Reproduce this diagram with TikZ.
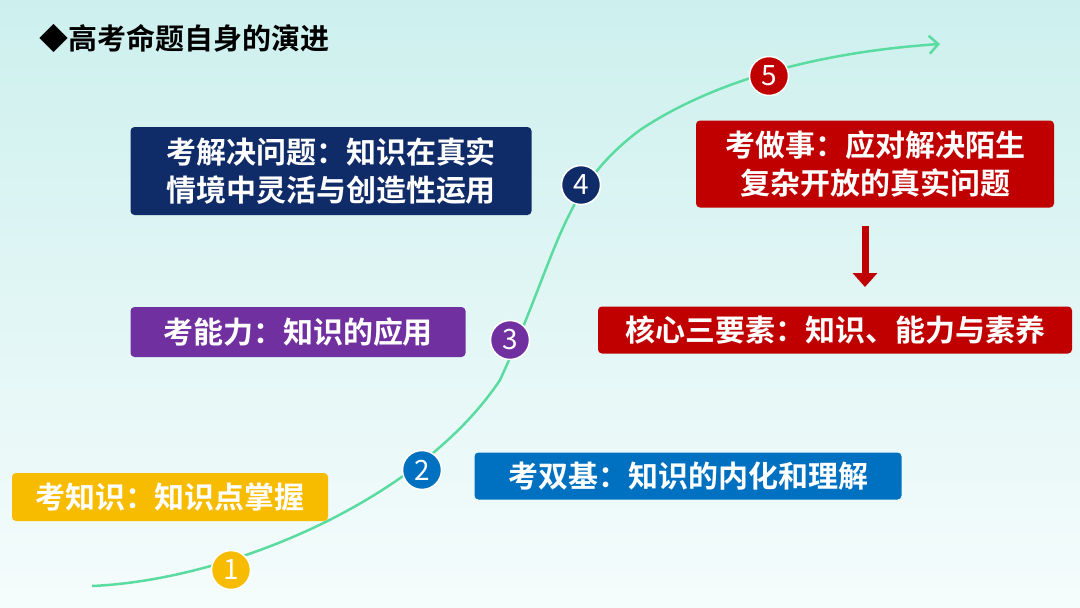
\documentclass[tikz,border=0pt]{standalone}
\usepackage{fontspec}
\setmainfont{Noto Sans CJK SC}[BoldFont={Noto Sans CJK SC Bold}]
\usetikzlibrary{arrows.meta}
\definecolor{curvegreen}{RGB}{90,220,160}
\definecolor{cyellow}{RGB}{247,187,0}
\definecolor{cblue}{RGB}{0,112,192}
\definecolor{cpurple}{RGB}{112,48,160}
\definecolor{cnavy}{RGB}{16,44,104}
\definecolor{cred}{RGB}{192,0,0}
\tikzset{
    stagebox/.style={fill=#1, rounded corners=4pt, text=white, font=\bfseries\fontsize{30}{38}\selectfont, align=center, inner sep=0pt},
    stagedot/.style={circle, fill=#1, draw=white, line width=1.5pt, minimum size=39pt, inner sep=0pt, text=white, font=\fontsize{28}{28}\selectfont}
}
\begin{document}
\begin{tikzpicture}[x=1pt, y=-1pt]
        \useasboundingbox (0,0) rectangle (1080,608);
        \shade[top color={rgb,255:red,205;green,240;blue,238}, bottom color={rgb,255:red,245;green,252;blue,252}] (0,0) rectangle (1080,608);
        \node[anchor=west, font=\bfseries\fontsize{29}{29}\selectfont] (title) at (36,38) {◆高考命题自身的演进};
        % growth curve
        \draw[curvegreen, line width=2.5pt, -{Straight Barb[length=9pt]}] (92,586) .. controls (230,580) and (420,500) .. (500,380) .. controls (560,250) and (560,190) .. (640,130) .. controls (730,70) and (850,50) .. (940,44);
        % stages
        \node[stagebox=cyellow, minimum width=316pt, minimum height=48pt] (zhishi) at (170,497) {考知识：知识点掌握};
        \node[stagebox=cblue, minimum width=427pt, minimum height=47pt] (shuangji) at (688,476) {考双基：知识的内化和理解};
        \node[stagebox=cpurple, minimum width=335pt, minimum height=50pt] (nengli) at (298,332) {考能力：知识的应用};
        \node[stagebox=cnavy, minimum width=401pt, minimum height=88pt] (jiejue) at (331,171) {考解决问题：知识在真实\\情境中灵活与创造性运用};
        \node[stagebox=cred, minimum width=358pt, minimum height=87pt] (zuoshi) at (875,164) {考做事：应对解决陌生\\复杂开放的真实问题};
        \node[stagebox=cred, minimum width=474pt, minimum height=47pt] (suyang) at (835,330) {核心三要素：知识、能力与素养};
        \draw[cred, line width=7pt, -{Triangle[length=14pt, width=24pt]}] (865,226) -- (865,287);
        % stage numbers
        \node[stagedot=cyellow] (n1) at (231,570) {1};
        \node[stagedot=cblue] (n2) at (422,470) {2};
        \node[stagedot=cpurple] (n3) at (510,340) {3};
        \node[stagedot=cnavy] (n4) at (581,185) {4};
        \node[stagedot=cred] (n5) at (769,76) {5};
\end{tikzpicture}
\end{document}
